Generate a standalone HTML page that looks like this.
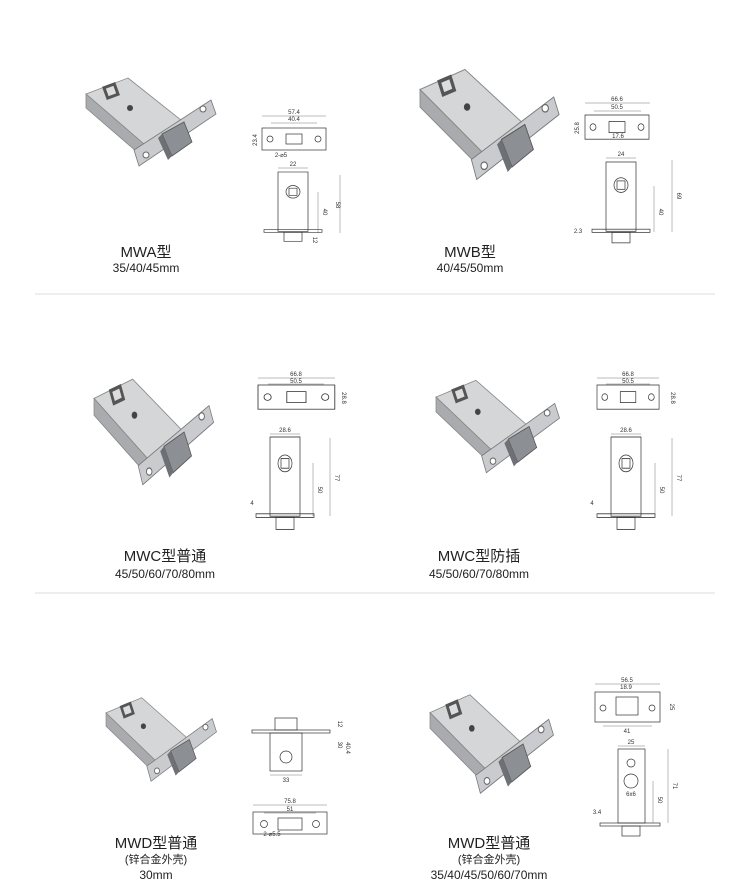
<!DOCTYPE html>
<html><head><meta charset="utf-8"><style>
html,body{margin:0;padding:0;background:#fff;}
svg{display:block}
.t{font-family:"Liberation Sans","Noto Sans CJK SC",sans-serif;fill:#222;text-anchor:middle}
.d{font-family:"Liberation Sans",sans-serif;font-size:6px;fill:#333;text-anchor:middle}
.l{fill:none;stroke:#333;stroke-width:0.7}
.f{fill:none;stroke:#555;stroke-width:0.4}
</style></head><body>
<svg width="750" height="892" viewBox="0 0 750 892" xmlns="http://www.w3.org/2000/svg">
<defs>
<g id="lock">
  <polygon points="0,22 42,6 100,52 58,72" fill="#d4d6d8" stroke="#888" stroke-width="0.8"/>
  <polygon points="0,22 0,36 58,86 58,72" fill="#a9abae" stroke="#888" stroke-width="0.8"/>
  <rect x="18" y="12" width="14" height="14" fill="#555" transform="rotate(-20 25 19)"/>
  <rect x="21" y="15" width="8" height="8" fill="#ddd" transform="rotate(-20 25 19)"/>
  <circle cx="44" cy="36" r="3" fill="#444"/>
  <polygon points="48,78 125,28 130,42 53,94" fill="#c9cbce" stroke="#777" stroke-width="0.8"/>
  <circle cx="60" cy="83" r="3" fill="#fff" stroke="#666"/>
  <circle cx="117" cy="37" r="3" fill="#fff" stroke="#666"/>
  <polygon points="76,62 98,50 106,70 86,84" fill="#8c8f93" stroke="#555" stroke-width="0.8"/>
  <polygon points="76,62 86,84 82,88 72,66" fill="#6d7074"/>
</g>
<g id="plate">
  <rect x="0" y="0" width="64" height="22" class="l"/>
  <circle cx="8" cy="11" r="3" class="l"/><circle cx="56" cy="11" r="3" class="l"/>
  <rect x="24" y="6" width="16" height="10" class="l"/>
</g>
<g id="body">
  <rect x="0" y="0" width="30" height="66" class="l"/>
  <circle cx="15" cy="22" r="7" class="l"/>
  <rect x="11" y="18" width="8" height="8" class="l"/>
  <rect x="-14" y="64" width="58" height="3" class="l"/>
  <rect x="6" y="67" width="18" height="10" class="l"/>
</g>
</defs>

<!-- separators -->
<line x1="35" y1="294" x2="715" y2="294" stroke="#ddd" stroke-width="1"/>
<line x1="35" y1="593" x2="715" y2="593" stroke="#ddd" stroke-width="1"/>

<!-- locks -->
<use href="#lock" transform="translate(86,72)"/>
<use href="#lock" transform="translate(420,62) scale(1.07,1.25)"/>
<use href="#lock" transform="translate(94,372) scale(0.92,1.2)"/>
<use href="#lock" transform="translate(436,374) scale(0.95,1.05)"/>
<use href="#lock" transform="translate(106,692) scale(0.85,0.95)"/>
<use href="#lock" transform="translate(430,688) scale(0.95,1.12)"/>

<!-- drawing A -->
<use href="#plate" transform="translate(262,128)"/>
<line x1="262" y1="116" x2="326" y2="116" class="f"/><text class="d" x="294" y="114">57.4</text>
<line x1="271" y1="123" x2="317" y2="123" class="f"/><text class="d" x="294" y="121">40.4</text>
<text class="d" x="255" y="142" transform="rotate(-90 255 140)">23.4</text>
<text class="d" x="281" y="157">2-⌀5</text>
<use href="#body" transform="translate(278,172) scale(1,0.9)"/>
<line x1="278" y1="168" x2="308" y2="168" class="f"/><text class="d" x="293" y="166">22</text>
<line x1="340" y1="175" x2="340" y2="233" class="f"/><text class="d" x="336" y="205" transform="rotate(90 336 205)">58</text>
<line x1="318" y1="192" x2="318" y2="233" class="f"/><text class="d" x="323" y="212" transform="rotate(90 323 212)">40</text>
<text class="d" x="313" y="240" transform="rotate(90 313 240)">12</text>

<!-- drawing B -->
<use href="#plate" transform="translate(585,115) scale(1,1.1)"/>
<line x1="585" y1="103" x2="650" y2="103" class="f"/><text class="d" x="617" y="101">66.6</text>
<line x1="594" y1="111" x2="641" y2="111" class="f"/><text class="d" x="617" y="109">50.5</text>
<text class="d" x="579" y="128" transform="rotate(-90 579 128)">25.8</text>
<text class="d" x="618" y="138">17.6</text>
<use href="#body" transform="translate(606,162) scale(1,1.05)"/>
<line x1="606" y1="158" x2="636" y2="158" class="f"/><text class="d" x="621" y="156">24</text>
<line x1="672" y1="160" x2="672" y2="232" class="f"/><text class="d" x="677" y="196" transform="rotate(90 677 196)">69</text>
<line x1="654" y1="186" x2="654" y2="232" class="f"/><text class="d" x="659" y="212" transform="rotate(90 659 212)">40</text>
<text class="d" x="578" y="233">2.3</text>

<!-- drawing C -->
<use href="#plate" transform="translate(258,385) scale(1.2,1.1)"/>
<line x1="258" y1="378" x2="335" y2="378" class="f"/><text class="d" x="296" y="376">66.8</text>
<line x1="268" y1="384" x2="324" y2="384" class="f"/><text class="d" x="296" y="383">50.5</text>
<text class="d" x="342" y="398" transform="rotate(90 342 398)">28.8</text>
<use href="#body" transform="translate(270,437) scale(1,1.2)"/>
<line x1="270" y1="434" x2="300" y2="434" class="f"/><text class="d" x="285" y="432">28.6</text>
<line x1="330" y1="438" x2="330" y2="516" class="f"/><text class="d" x="335" y="478" transform="rotate(90 335 478)">77</text>
<line x1="313" y1="463" x2="313" y2="516" class="f"/><text class="d" x="318" y="490" transform="rotate(90 318 490)">50</text>
<text class="d" x="252" y="505">4</text>

<!-- drawing D -->
<use href="#plate" transform="translate(597,385) scale(0.97,1.1)"/>
<line x1="597" y1="378" x2="659" y2="378" class="f"/><text class="d" x="628" y="376">66.8</text>
<line x1="606" y1="384" x2="650" y2="384" class="f"/><text class="d" x="628" y="383">50.5</text>
<text class="d" x="671" y="398" transform="rotate(90 671 398)">28.8</text>
<use href="#body" transform="translate(611,437) scale(1,1.2)"/>
<line x1="611" y1="434" x2="641" y2="434" class="f"/><text class="d" x="626" y="432">28.6</text>
<line x1="672" y1="438" x2="672" y2="516" class="f"/><text class="d" x="677" y="478" transform="rotate(90 677 478)">77</text>
<line x1="655" y1="463" x2="655" y2="516" class="f"/><text class="d" x="660" y="490" transform="rotate(90 660 490)">50</text>
<text class="d" x="592" y="505">4</text>

<!-- drawing E -->
<rect x="275" y="718" width="22" height="12" class="l"/>
<rect x="252" y="730" width="78" height="3" class="l"/>
<rect x="270" y="733" width="32" height="38" class="l"/>
<circle cx="286" cy="757" r="6" class="l"/>
<line x1="270" y1="775" x2="302" y2="775" class="f"/><text class="d" x="286" y="782">33</text>
<text class="d" x="338" y="745" transform="rotate(90 338 745)">30</text>
<text class="d" x="346" y="748" transform="rotate(90 346 748)">40.4</text>
<text class="d" x="338" y="724" transform="rotate(90 338 724)">12</text>
<rect x="253" y="812" width="74" height="22" class="l"/>
<line x1="253" y1="805" x2="327" y2="805" class="f"/><text class="d" x="290" y="803">75.8</text>
<line x1="264" y1="813" x2="316" y2="813" class="f"/><text class="d" x="290" y="811">51</text>
<circle cx="264" cy="824" r="3.5" class="l"/><circle cx="316" cy="824" r="3.5" class="l"/>
<rect x="278" y="818" width="24" height="12" class="l"/>
<text class="d" x="272" y="836">2-⌀5.5</text>

<!-- drawing F -->
<rect x="595" y="692" width="65" height="30" class="l"/>
<line x1="595" y1="684" x2="660" y2="684" class="f"/><text class="d" x="627" y="682">56.5</text>
<text class="d" x="626" y="689">18.9</text>
<rect x="616" y="697" width="22" height="18" class="l"/>
<circle cx="603" cy="708" r="3" class="l"/><circle cx="652" cy="708" r="3" class="l"/>
<text class="d" x="670" y="707" transform="rotate(90 670 707)">25</text>
<line x1="603" y1="726" x2="652" y2="726" class="f"/><text class="d" x="627" y="733">41</text>
<rect x="618" y="749" width="27" height="74" class="l"/>
<line x1="618" y1="746" x2="645" y2="746" class="f"/><text class="d" x="631" y="744">25</text>
<circle cx="631" cy="763" r="4" class="l"/>
<circle cx="631" cy="781" r="7" class="l"/>
<text class="d" x="631" y="796">6x6</text>
<rect x="600" y="823" width="60" height="3" class="l"/>
<rect x="622" y="826" width="18" height="10" class="l"/>
<line x1="668" y1="749" x2="668" y2="823" class="f"/><text class="d" x="673" y="786" transform="rotate(90 673 786)">71</text>
<line x1="653" y1="781" x2="653" y2="823" class="f"/><text class="d" x="658" y="800" transform="rotate(90 658 800)">50</text>
<text class="d" x="597" y="814">3.4</text>

<!-- labels -->
<text class="t" x="146" y="257" font-size="15">MWA型</text>
<text class="t" x="146" y="272" font-size="12">35/40/45mm</text>
<text class="t" x="470" y="257" font-size="15">MWB型</text>
<text class="t" x="470" y="272" font-size="12">40/45/50mm</text>
<text class="t" x="165" y="561" font-size="15">MWC型普通</text>
<text class="t" x="165" y="578" font-size="12">45/50/60/70/80mm</text>
<text class="t" x="479" y="561" font-size="15">MWC型防插</text>
<text class="t" x="479" y="578" font-size="12">45/50/60/70/80mm</text>
<text class="t" x="156" y="848" font-size="15">MWD型普通</text>
<text class="t" x="156" y="863" font-size="11">(锌合金外壳)</text>
<text class="t" x="156" y="879" font-size="12">30mm</text>
<text class="t" x="489" y="848" font-size="15">MWD型普通</text>
<text class="t" x="489" y="863" font-size="11">(锌合金外壳)</text>
<text class="t" x="489" y="879" font-size="12">35/40/45/50/60/70mm</text>
</svg>
</body></html>
